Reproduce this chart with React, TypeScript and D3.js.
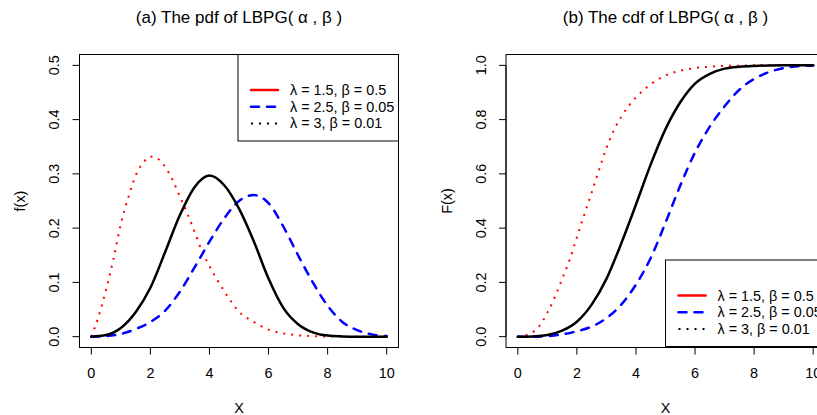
import React from "react";
import * as d3 from "d3";

// x grid used by the black and blue curves
const gridX = [0, 0.5, 1, 1.5, 2, 2.5, 3, 3.5, 4, 4.5, 5, 5.5, 6, 6.5, 7, 7.5, 8, 8.5, 9, 9.5, 10];
// finer grid for the red curves
const redX = [0, 0.25, 0.5, 0.75, 1, 1.25, 1.5, 1.75, 2, 2.25, 2.5, 2.75, 3, 3.25, 3.5, 3.75, 4, 4.5, 5, 5.5, 6, 6.5, 7, 7.5, 8, 9, 10];

// pdf values
const blackPdf = [0, 0.003, 0.016, 0.045, 0.09, 0.156, 0.224, 0.276, 0.297, 0.279, 0.236, 0.176, 0.107, 0.053, 0.023, 0.008, 0.002, 0.0005, 0, 0, 0];
const bluePdf = [0, 0.001, 0.005, 0.014, 0.027, 0.048, 0.083, 0.128, 0.175, 0.218, 0.25, 0.261, 0.246, 0.203, 0.15, 0.1, 0.057, 0.027, 0.012, 0.004, 0.001];
const redPdf = [0, 0.038, 0.087, 0.143, 0.208, 0.256, 0.297, 0.32, 0.332, 0.328, 0.313, 0.289, 0.258, 0.227, 0.193, 0.157, 0.13, 0.084, 0.046, 0.027, 0.013, 0.006, 0.0025, 0.001, 0.0003, 0, 0];

// cdf values
const blackCdf = [0, 0.001, 0.006, 0.022, 0.055, 0.118, 0.213, 0.343, 0.487, 0.635, 0.765, 0.864, 0.933, 0.969, 0.988, 0.995, 0.998, 0.9995, 1, 1, 1];
const blueCdf = [0, 0, 0.002, 0.008, 0.02, 0.037, 0.068, 0.118, 0.192, 0.29, 0.42, 0.557, 0.679, 0.774, 0.849, 0.91, 0.95, 0.975, 0.99, 0.997, 0.999];
const redCdf = [0, 0.004, 0.016, 0.042, 0.088, 0.145, 0.212, 0.282, 0.366, 0.45, 0.531, 0.615, 0.695, 0.76, 0.81, 0.85, 0.882, 0.93, 0.963, 0.98, 0.99, 0.995, 0.998, 0.999, 1, 1, 1];

const xTicks = [0, 2, 4, 6, 8, 10];
const pdfTicks = [0, 0.1, 0.2, 0.3, 0.4, 0.5];
const cdfTicks = [0, 0.2, 0.4, 0.6, 0.8, 1.0];
const legendLabels = ["λ = 1.5, β = 0.5", "λ = 2.5, β = 0.05", "λ = 3, β = 0.01"];

const font = "'Liberation Sans', Arial, Helvetica, sans-serif";
const fs = 14.4;

const styles = {
  black: { stroke: "#000", width: 2.5, dash: null, cap: "round" },
  blue: { stroke: "#0000ff", width: 2.5, dash: "8 8", cap: "round" },
  red: { stroke: "#ff0000", width: 2, dash: "2 6", cap: "butt" },
};
const legendStyles = [
  { stroke: "#ff0000", width: 2.5, dash: null, cap: "round" },
  { stroke: "#0000ff", width: 2.5, dash: "8 8", cap: "round" },
  { stroke: "#000", width: 2, dash: "2 6", cap: "butt" },
];

function Panel({ left, title, ylab, yTicks, ymax, series, legend }) {
  const top = 54.5, bottom = 347.5, width = 319;
  const right = left + width;
  const padX = width - width / 1.08;
  const x = d3.scaleLinear().domain([0, 10]).range([left + padX / 2, right - padX / 2]);
  const h = bottom - top;
  const padY = (h - h / 1.08) / 2;
  const y = d3.scaleLinear().domain([0, ymax]).range([bottom - padY, top + padY]);
  const fmt = d3.format(".1f");

  return (
    <g fontFamily={font} fontSize={fs} fill="#000">
      <text x={(left + right) / 2} y={23} textAnchor="middle" fontSize={17}>{title}</text>
      {series.map((s, i) => {
        const line = d3.line().x((d) => x(d[0])).y((d) => y(d[1])).curve(d3.curveMonotoneX);
        const pts = s.xs.map((v, j) => [v, s.ys[j]]);
        const st = styles[s.style];
        return (
          <path key={i} d={line(pts)} fill="none" stroke={st.stroke} strokeWidth={st.width}
            strokeDasharray={st.dash || undefined} strokeLinecap={st.cap} strokeLinejoin="round" />
        );
      })}
      <rect x={left} y={top} width={width} height={h} fill="none" stroke="#000" strokeWidth={1} />
      {/* x axis */}
      <line x1={x(0)} x2={x(10)} y1={bottom} y2={bottom} stroke="#000" />
      {xTicks.map((t) => (
        <g key={t}>
          <line x1={x(t)} x2={x(t)} y1={bottom} y2={bottom + 7} stroke="#000" />
          <text x={x(t)} y={373} dy="0.35em" textAnchor="middle">{t}</text>
        </g>
      ))}
      <text x={(left + right) / 2} y={408} dy="0.35em" textAnchor="middle">X</text>
      {/* y axis */}
      <line x1={left} x2={left} y1={y(0)} y2={y(ymax)} stroke="#000" />
      {yTicks.map((t) => (
        <g key={t}>
          <line x1={left} x2={left - 7} y1={y(t)} y2={y(t)} stroke="#000" />
          <text transform={`translate(${left - 25.5},${y(t)}) rotate(-90)`} dy="0.35em" textAnchor="middle">{fmt(t)}</text>
        </g>
      ))}
      <text transform={`translate(${left - 59.5},${(top + bottom) / 2}) rotate(-90)`} dy="0.35em" textAnchor="middle">{ylab}</text>
      {/* legend */}
      <g transform={`translate(${legend.x},${legend.y})`}>
        <rect x={0} y={0} width={160.5} height={86.5} fill="#fff" stroke="#000" strokeWidth={1} />
        {legendLabels.map((lab, i) => {
          const st = legendStyles[i];
          const ry = 35.5 + i * 16.7;
          return (
            <g key={i}>
              <line x1={13} x2={40} y1={ry} y2={ry} stroke={st.stroke} strokeWidth={st.width}
                strokeDasharray={st.dash || undefined} strokeLinecap={st.cap} />
              <text x={52} y={ry} dy="0.35em">{lab}</text>
            </g>
          );
        })}
      </g>
    </g>
  );
}

export default function App() {
  const pdfSeries = [
    { xs: redX, ys: redPdf, style: "red" },
    { xs: gridX, ys: bluePdf, style: "blue" },
    { xs: gridX, ys: blackPdf, style: "black" },
  ];
  const cdfSeries = [
    { xs: redX, ys: redCdf, style: "red" },
    { xs: gridX, ys: blueCdf, style: "blue" },
    { xs: gridX, ys: blackCdf, style: "black" },
  ];
  return (
    <div style={{ position: "absolute", left: 0, top: 0 }}>
      <svg width={817} height={415} style={{ display: "block", background: "#fff" }}>
        <Panel left={79.5} title="(a) The pdf of LBPG( α , β )" ylab="f(x)" yTicks={pdfTicks} ymax={0.5}
          series={pdfSeries} legend={{ x: 238, y: 54.5 }} />
        <Panel left={506} title="(b) The cdf of LBPG( α , β )" ylab="F(x)" yTicks={cdfTicks} ymax={1}
          series={cdfSeries} legend={{ x: 665.5, y: 260 }} />
      </svg>
    </div>
  );
}
